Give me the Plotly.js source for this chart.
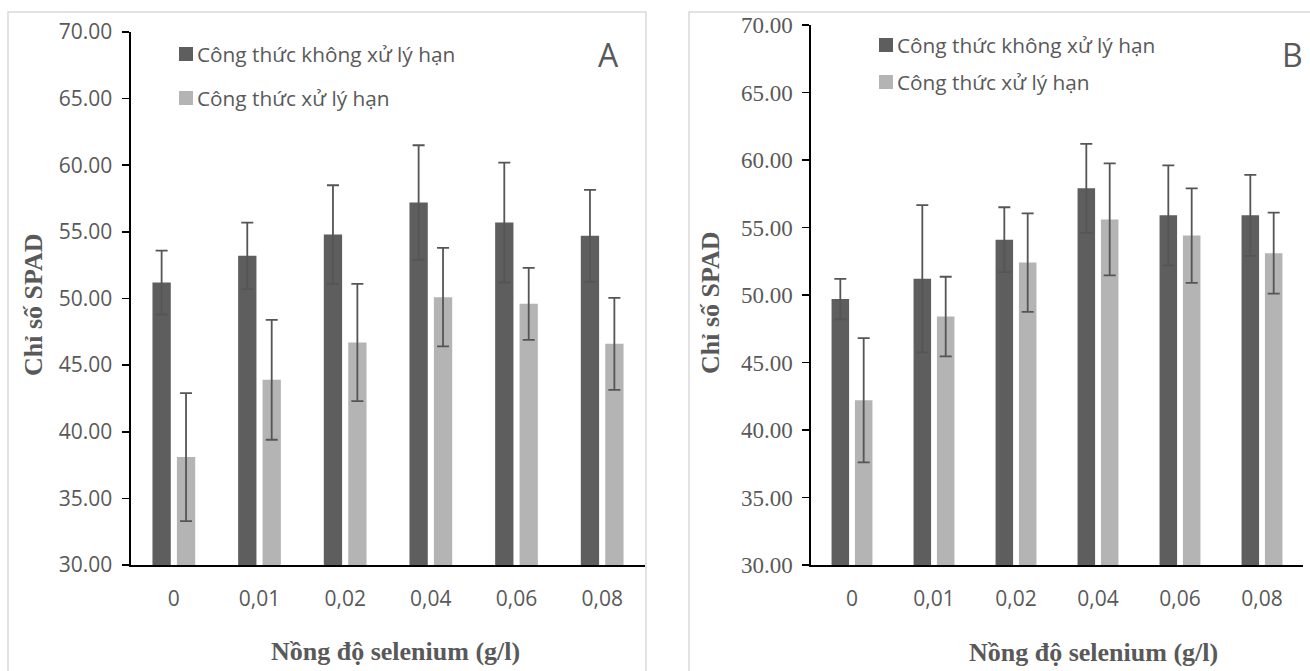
<!DOCTYPE html>
<html>
<head>
<meta charset="utf-8">
<script src="https://cdn.plot.ly/plotly-3.0.1.min.js"></script>
<style>
  html, body { margin: 0; padding: 0; background: #ffffff; }
  #chart { width: 1310px; height: 671px; }
</style>
</head>
<body>
<div id="chart"></div>
<script>
// Selenium concentrations (g/l)
const concentrations = ["0", "0,01", "0,02", "0,04", "0,06", "0,08"];
const seriesNames = ["Công thức không xử lý hạn", "Công thức xử lý hạn"];

// Panel A – SPAD index
const spadA_control = [51.2, 53.2, 54.8, 57.2, 55.7, 54.7];
const spadA_controlErr = [2.4, 2.5, 3.7, 4.3, 4.5, 3.45];
const spadA_drought = [38.1, 43.9, 46.7, 50.1, 49.6, 46.6];
const spadA_droughtErr = [4.8, 4.5, 4.4, 3.7, 2.7, 3.45];

// Panel B – SPAD index
const spadB_control = [49.7, 51.2, 54.1, 57.9, 55.9, 55.9];
const spadB_controlErr = [1.5, 5.45, 2.4, 3.3, 3.7, 3.0];
const spadB_drought = [42.2, 48.4, 52.4, 55.6, 54.4, 53.1];
const spadB_droughtErr = [4.6, 2.95, 3.65, 4.15, 3.5, 3.0];

const yTicks = [30, 35, 40, 45, 50, 55, 60, 65, 70];

const W = 1310, H = 671;
const px = v => v / W;
const py = v => 1 - v / H;

const DARK = "#5e5e5e";
const LIGHT = "#b4b4b4";
const ERR = "#555555";
const TXT = "#595959";
const SANS = "Open Sans";
const SERIF = "Liberation Serif";

function barTrace(y, err, color, xa, ya, name) {
  return {
    type: "bar", x: concentrations, y: y, name: name,
    xaxis: xa, yaxis: ya, showlegend: false,
    marker: { color: color, line: { width: 0 } },
    error_y: { type: "data", array: err, visible: true, color: ERR, thickness: 1.8, width: 6 },
    hoverinfo: "none"
  };
}

const data = [
  barTrace(spadA_control, spadA_controlErr, DARK, "x", "y", seriesNames[0]),
  barTrace(spadA_drought, spadA_droughtErr, LIGHT, "x", "y", seriesNames[1]),
  barTrace(spadB_control, spadB_controlErr, DARK, "x2", "y2", seriesNames[0]),
  barTrace(spadB_drought, spadB_droughtErr, LIGHT, "x2", "y2", seriesNames[1])
];

function yAxis(domain, xAnchor, family, size, standoff) {
  return {
    domain: domain, anchor: xAnchor, range: [30, 70], fixedrange: true,
    tickmode: "array", tickvals: yTicks, ticktext: yTicks.map(v => v.toFixed(2)),
    showgrid: false, zeroline: false,
    showline: true, linecolor: "#000000", linewidth: 1.6,
    ticks: "outside", ticklen: 7, tickwidth: 1.6, tickcolor: "#000000",
    ticklabelstandoff: standoff,
    tickfont: { family: family, size: size, color: TXT }
  };
}
function xAxis(domain, yAnchor) {
  return {
    domain: domain, anchor: yAnchor, type: "category", fixedrange: true,
    showgrid: false, zeroline: false,
    showline: true, linecolor: "#000000", linewidth: 2,
    ticks: "", ticklabelstandoff: 14,
    tickfont: { family: SANS, size: 21, color: TXT }
  };
}

const shapes = [
  // chart frames
  { type: "rect", xref: "paper", yref: "paper", x0: px(8), x1: px(646), y0: py(690), y1: py(12),
    line: { color: "#d9d9d9", width: 1.5 }, fillcolor: "rgba(0,0,0,0)", layer: "below" },
  { type: "rect", xref: "paper", yref: "paper", x0: px(689), x1: px(1330), y0: py(690), y1: py(12),
    line: { color: "#d9d9d9", width: 1.5 }, fillcolor: "rgba(0,0,0,0)", layer: "below" }
];

const annotations = [];

// legend swatches and labels for both panels
function legend(x, yRows) {
  const colors = [DARK, LIGHT];
  yRows.forEach((yc, i) => {
    shapes.push({ type: "rect", xref: "paper", yref: "paper",
      x0: px(x), x1: px(x + 14), y0: py(yc + 7), y1: py(yc - 7),
      fillcolor: colors[i], line: { width: 0 } });
    annotations.push({ xref: "paper", yref: "paper", x: px(x + 16), y: py(yc),
      xanchor: "left", yanchor: "middle", showarrow: false, text: seriesNames[i],
      font: { family: SANS, size: 20.8, color: TXT } });
  });
}
legend(179, [54, 98]);
legend(879, [45, 82]);

// panel letters
annotations.push({ xref: "paper", yref: "paper", x: px(608), y: py(55), xanchor: "center", yanchor: "middle",
  showarrow: false, text: "A", font: { family: SANS, size: 32, color: TXT } });
annotations.push({ xref: "paper", yref: "paper", x: px(1292), y: py(54), xanchor: "center", yanchor: "middle",
  showarrow: false, text: "B", font: { family: SANS, size: 32, color: TXT } });

// axis titles
const titleFont = { family: SERIF, size: 26, color: TXT };
function title(x, y, text, angle) {
  annotations.push({ xref: "paper", yref: "paper", x: px(x), y: py(y), xanchor: "center", yanchor: "middle",
    showarrow: false, textangle: angle, text: "<b>" + text + "</b>", font: titleFont });
}
title(395, 651, "Nồng độ selenium (g/l)", 0);
title(1093, 652, "Nồng độ selenium (g/l)", 0);
title(33, 305, "Chỉ số SPAD", -90);
title(710, 303, "Chỉ số SPAD", -90);

const layout = {
  width: W, height: H,
  margin: { l: 0, r: 0, t: 0, b: 0, pad: 0 },
  paper_bgcolor: "#ffffff", plot_bgcolor: "rgba(0,0,0,0)",
  barmode: "group", bargap: 0.43, bargroupgap: 0.25,
  showlegend: false,
  xaxis: xAxis([px(131), px(645)], "y"),
  yaxis: yAxis([py(565), py(32)], "x", SANS, 21, 6),
  xaxis2: xAxis([px(811), px(1303)], "y2"),
  yaxis2: yAxis([py(565), py(25)], "x2", SERIF, 23, 5),
  shapes: shapes,
  annotations: annotations
};

Plotly.newPlot("chart", data, layout, { displayModeBar: false, staticPlot: true });
</script>
</body>
</html>
